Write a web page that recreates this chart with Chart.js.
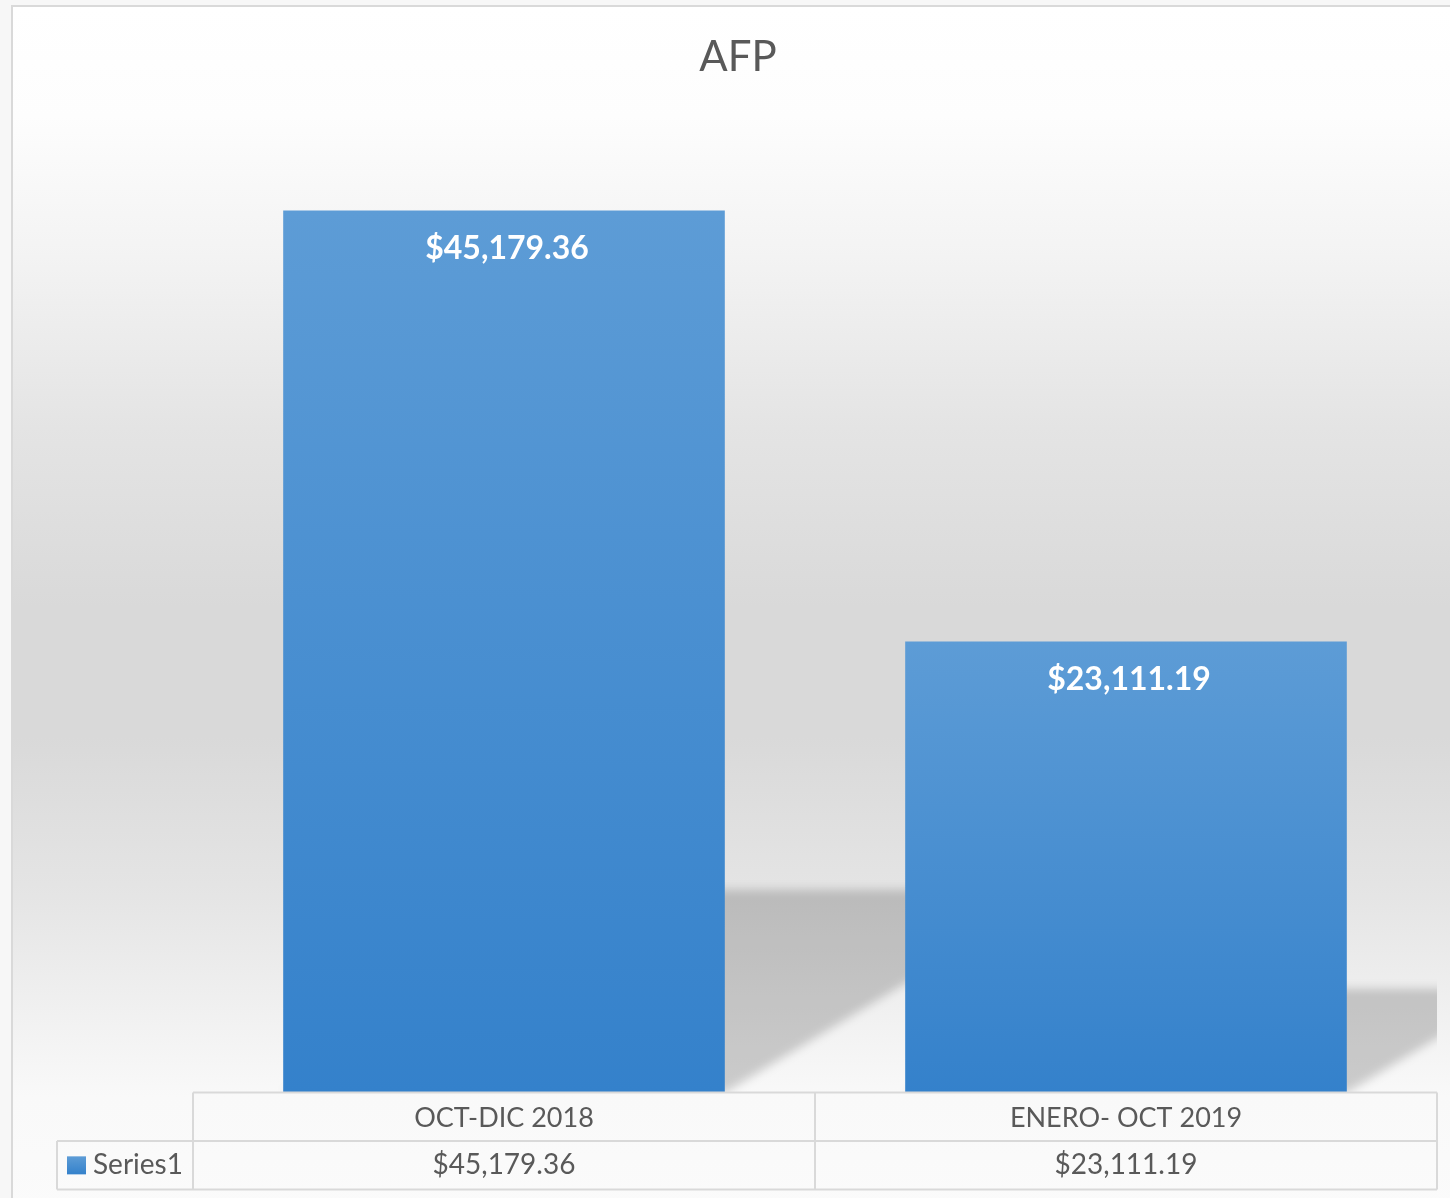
<!DOCTYPE html>
<html>
<head>
<meta charset="utf-8">
<script src="https://cdn.jsdelivr.net/npm/chart.js@4.4.0/dist/chart.umd.min.js"></script>
<style>
  html, body { margin: 0; padding: 0; overflow: hidden; background: #f7f7f7; }
  #wrap {
    position: absolute; left: 11px; top: 5px;
    width: 1460px; height: 1215px;
    box-sizing: border-box;
    border: 2px solid #d9d9d9;
    background: linear-gradient(to bottom,
      #ffffff 0px, #fdfdfd 110px, #f3f3f3 250px, #e4e4e4 420px,
      #d9d9d9 600px, #d9d9d9 730px, #e5e5e5 890px, #f1f1f1 1010px,
      #f9f9f9 1090px, #fbfbfb 1211px);
  }
  #wrap canvas { display: block; }
</style>
</head>
<body>
<div id="wrap"><canvas id="afpChart"></canvas></div>
<script>
document.addEventListener('DOMContentLoaded', function() {
  // Data
  const categories = ['OCT-DIC 2018', 'ENERO- OCT 2019'];
  const seriesName = 'Series1';
  const seriesValues = [45179.36, 23111.19];
  const axisMin = 0, axisMax = 50000;

  const textColor = '#595959',
    gridColor = '#d9d9d9',
    barTop = '#5d9cd6',
    barBottom = '#3481cb',
    fontFamily = 'Lato, "Open Sans", sans-serif';

  const money = function(v) {
    return '$' + v.toLocaleString('en-US', { minimumFractionDigits: 2, maximumFractionDigits: 2 });
  };

  // soft perspective shadow behind each bar
  const shadowPlugin = {
    id: 'barShadow',
    beforeDatasetsDraw: function(chart) {
      const ctx = chart.ctx, area = chart.chartArea;
      ctx.save();
      ctx.beginPath();
      ctx.rect(area.left, area.top, area.right - area.left, area.bottom - area.top);
      ctx.clip();
      ctx.filter = 'blur(5px)';
      ctx.fillStyle = 'rgba(0,0,0,0.18)';
      chart.getDatasetMeta(0).data.forEach(function(bar) {
        const h = bar.base - bar.y;
        const sh = h * 0.23, dx = h * 0.38;
        const l = bar.x - bar.width / 2, r = bar.x + bar.width / 2;
        ctx.beginPath();
        ctx.moveTo(l, bar.base);
        ctx.lineTo(r, bar.base);
        ctx.lineTo(r + dx, bar.base - sh);
        ctx.lineTo(l + dx, bar.base - sh);
        ctx.closePath();
        ctx.fill();
      });
      ctx.restore();
    }
  };

  // value labels inside the bars
  const labelPlugin = {
    id: 'barLabels',
    afterDatasetsDraw: function(chart) {
      const ctx = chart.ctx;
      ctx.save();
      ctx.font = 'bold 32px ' + fontFamily;
      ctx.fillStyle = '#ffffff';
      ctx.textAlign = 'center';
      ctx.textBaseline = 'middle';
      chart.getDatasetMeta(0).data.forEach(function(bar, i) {
        ctx.fillText(money(seriesValues[i]), bar.x + 3, bar.y + 38);
      });
      ctx.restore();
    }
  };

  // data table under the plot area
  const tablePlugin = {
    id: 'dataTable',
    afterDraw: function(chart) {
      const ctx = chart.ctx, area = chart.chartArea, x = chart.scales.x;
      const rowH = 48.5;
      const top = area.bottom, mid = top + rowH, bot = top + rowH * 2;
      const legendLeft = area.left - 136;
      ctx.save();
      ctx.strokeStyle = gridColor;
      ctx.lineWidth = 2;
      ctx.beginPath();
      ctx.moveTo(area.left, top); ctx.lineTo(area.right, top);
      ctx.moveTo(legendLeft, mid); ctx.lineTo(area.right, mid);
      ctx.moveTo(legendLeft, bot); ctx.lineTo(area.right, bot);
      ctx.moveTo(legendLeft, mid); ctx.lineTo(legendLeft, bot);
      const step = (area.right - area.left) / categories.length;
      for (let i = 0; i <= categories.length; i++) {
        const gx = area.left + step * i;
        ctx.moveTo(gx, top); ctx.lineTo(gx, bot);
      }
      ctx.stroke();

      ctx.fillStyle = textColor;
      ctx.font = '28px ' + fontFamily;
      ctx.textAlign = 'center';
      ctx.textBaseline = 'middle';
      seriesValues.forEach(function(v, i) {
        ctx.fillText(money(v), x.getPixelForValue(i), mid + rowH / 2);
      });

      // legend key
      const ky = mid + rowH / 2;
      const g = ctx.createLinearGradient(0, ky - 9, 0, ky + 9);
      g.addColorStop(0, barTop); g.addColorStop(1, barBottom);
      ctx.fillStyle = g;
      ctx.fillRect(legendLeft + 10, ky - 9, 19, 18);
      ctx.fillStyle = textColor;
      ctx.textAlign = 'left';
      ctx.fillText(seriesName, legendLeft + 36, ky);
      ctx.restore();
    }
  };

  const el = document.getElementById('afpChart');
  new Chart(el, {
    type: 'bar',
    data: {
      labels: categories,
      datasets: [{
        label: seriesName,
        data: seriesValues,
        backgroundColor: function(context) {
          const chart = context.chart;
          if (!chart.chartArea || context.type !== 'data') return barBottom;
          const y = chart.scales.y;
          const g = chart.ctx.createLinearGradient(0, y.getPixelForValue(context.raw), 0, y.getPixelForValue(0));
          g.addColorStop(0, barTop);
          g.addColorStop(1, barBottom);
          return g;
        },
        borderWidth: 0,
        categoryPercentage: 1,
        barPercentage: 0.71
      }]
    },
    options: {
      responsive: true,
      maintainAspectRatio: false,
      animation: false,
      layout: { padding: { left: 0, right: 6, top: 0, bottom: 75 } },
      scales: {
        x: {
          grid: { display: false, drawTicks: false },
          border: { display: false },
          ticks: { color: textColor, font: { family: fontFamily, size: 27 }, padding: 9, maxRotation: 0 }
        },
        y: {
          min: axisMin, max: axisMax,
          grid: { display: false },
          border: { display: false },
          ticks: { display: false },
          afterFit: function(scale) { scale.width = 180; }
        },
        yRight: {
          type: 'linear', position: 'right',
          grid: { display: false },
          border: { display: false },
          ticks: { display: false },
          afterFit: function(scale) { scale.width = 26; }
        }
      },
      plugins: {
        legend: { display: false },
        tooltip: { enabled: false },
        title: {
          display: true,
          text: 'AFP',
          color: textColor,
          font: { family: fontFamily, size: 42, weight: 'normal' },
          padding: { top: 25, bottom: 34 }
        }
      }
    },
    plugins: [shadowPlugin, labelPlugin, tablePlugin]
  });
});
</script>
</body>
</html>
